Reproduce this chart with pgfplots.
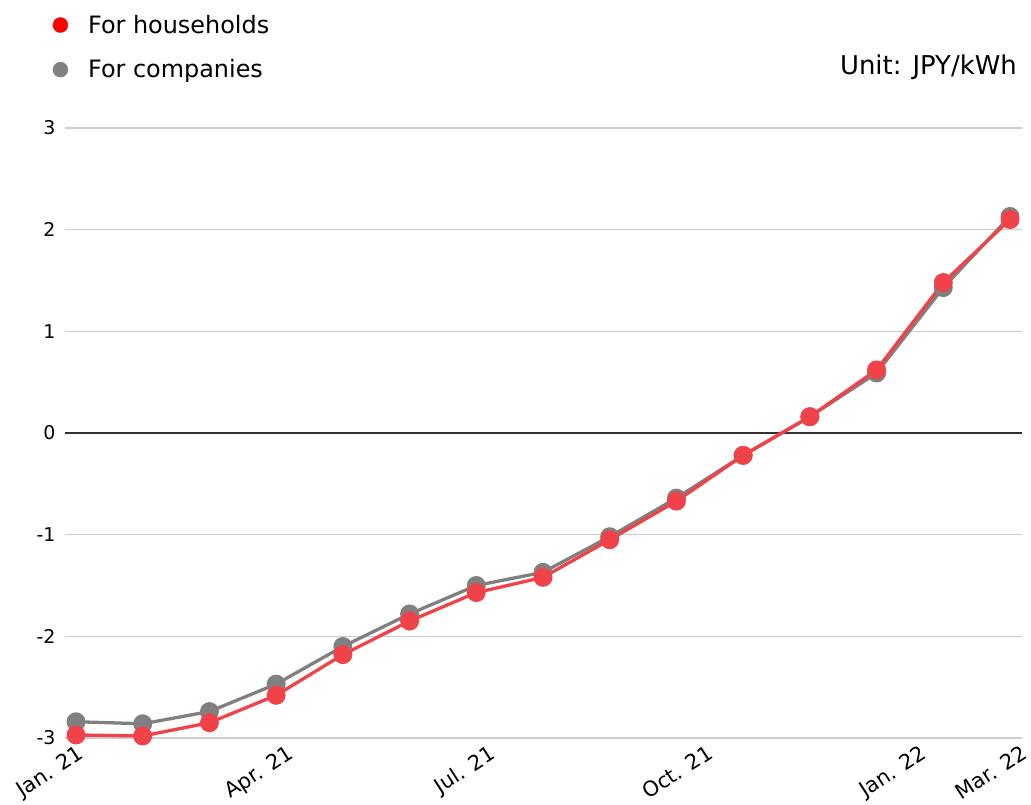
\documentclass[border=0pt]{standalone}
\usepackage{fontspec}
\setmainfont{DejaVu Sans}
\usepackage{pgfplots}
\pgfplotsset{compat=1.18}
\definecolor{hred}{RGB}{240,66,72}
\definecolor{cgray}{RGB}{128,128,128}
\definecolor{gridgray}{RGB}{205,205,205}
\definecolor{zeroline}{RGB}{50,50,50}
\begin{document}
\begin{tikzpicture}
\useasboundingbox (-65bp,-67bp) rectangle (966bp,738bp);
\begin{axis}[
  scale only axis, width=957bp, height=610bp,
  xmin=-0.165, xmax=14.18, ymin=-3, ymax=3,
  clip=false,
  axis line style={draw=none},
  major tick length=0pt,
  ytick={-3,-2,-1,0,1,2,3},
  ymajorgrids,
  grid style={color=gridgray, line width=1.3bp},
  extra y ticks={0},
  extra y tick labels={},
  extra y tick style={grid style={color=zeroline, line width=1.3bp}},
  yticklabel style={font=\fontsize{19}{19}\selectfont, xshift=-6bp},
  /pgf/number format/assume math mode=true,
  xtick={-0.08,3.06,6.09,9.35,12.55,14.06},
  xticklabels={Jan. 21, Apr. 21, Jul. 21, Oct. 21, Jan. 22, Mar. 22},
  xticklabel style={font=\fontsize{21}{21}\selectfont, xshift=6bp, yshift=-6bp, rotate=33, anchor=north east, inner sep=0pt},
  legend cell align=left,
  legend image code/.code={\fill[#1] (0bp,0bp) circle (7.5bp);},
  legend style={draw=none, fill=none, inner sep=0pt,
    at={(axis description cs:0,1)}, anchor=north west,
    xshift=-12.5bp, yshift=115bp,
    font=\fontsize{24}{24}\selectfont, row sep=21bp,
    /tikz/every odd column/.append style={column sep=18bp}},
]
\addlegendimage{color=red}
\addlegendentry{For households}
\addlegendimage{color=cgray}
\addlegendentry{For companies}
\addplot[forget plot, color=cgray, line width=3.3bp, mark=*, mark size=7.8bp, mark options={fill=cgray, draw=cgray}] coordinates {
(0,-2.84) (1,-2.86) (2,-2.74) (3,-2.47) (4,-2.10) (5,-1.78) (6,-1.50) (7,-1.37)
(8,-1.02) (9,-0.64) (10,-0.22) (11,0.16) (12,0.59) (13,1.43) (14,2.13)};
\addplot[forget plot, color=hred, line width=3.3bp, mark=*, mark size=7.8bp, mark options={fill=hred, draw=hred}] coordinates {
(0,-2.97) (1,-2.98) (2,-2.85) (3,-2.58) (4,-2.18) (5,-1.85) (6,-1.57) (7,-1.42)
(8,-1.05) (9,-0.67) (10,-0.22) (11,0.16) (12,0.62) (13,1.48) (14,2.10)};
\end{axis}
\node[anchor=base east, inner sep=0pt, font=\fontsize{26}{26}\selectfont] at (952bp,663bp) {Unit: JPY/kWh};
\end{tikzpicture}
\end{document}
